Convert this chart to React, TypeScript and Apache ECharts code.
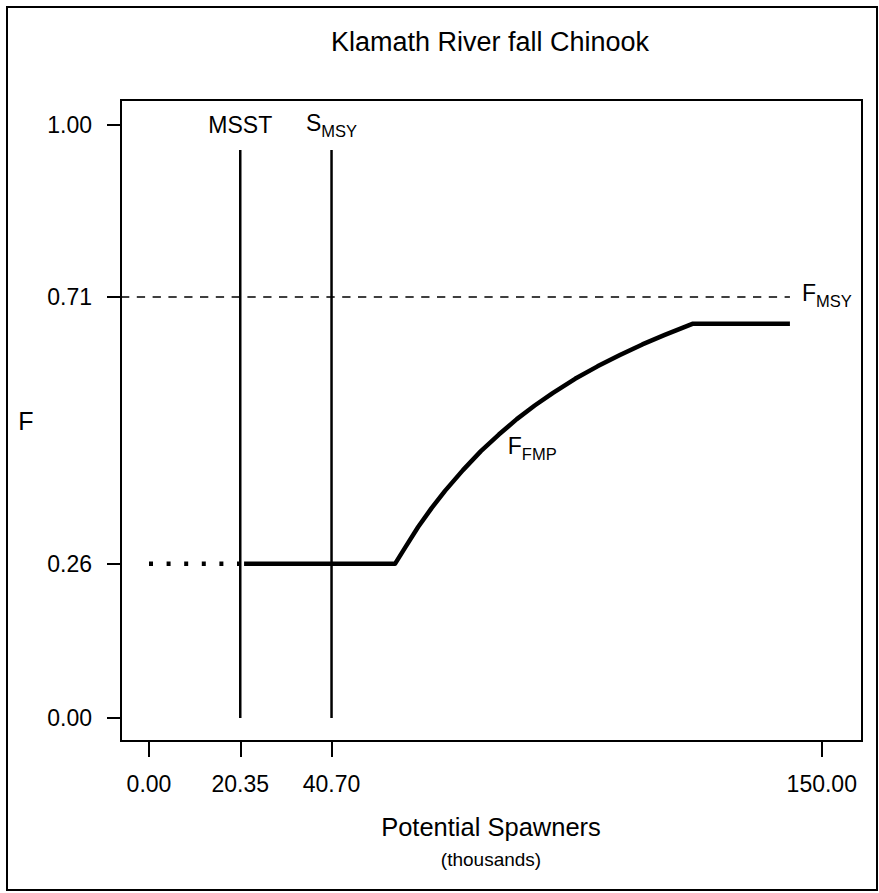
import React, { useEffect, useRef } from "react";
import * as echarts from "echarts";

const FONT = "'Liberation Sans', Arial, Helvetica, sans-serif";

// Axis ticks
const xTickValues = [0, 20.35, 40.7, 150];
const xTickLabels = ["0.00", "20.35", "40.70", "150.00"];
const yTickValues = [0, 0.26, 0.71, 1.0];
const yTickLabels = ["0.00", "0.26", "0.71", "1.00"];

// Axis ranges (R style plot box)
const xMin = -6.24;
const xMax = 158.97;
const yMin = -0.0388;
const yMax = 1.0422;

// Reference values
const MSST = 20.35;
const SMSY = 40.7;
const FMSY = 0.71;
const FLOW = 0.26;
const refLineTop = 0.958;

// Control rule pieces
const dottedX = [0, 20.35];
const flatX = [21.2, 54.85];
const curveX = [54.85, 57, 60, 63, 66, 70, 74, 78, 82, 86, 90, 95, 100, 105, 110, 115, 121.3];
const curveY = [0.26, 0.286, 0.322, 0.354, 0.383, 0.418, 0.45, 0.478, 0.504, 0.527, 0.548, 0.572, 0.593, 0.612, 0.63, 0.646, 0.665];
const capX = [121.3, 142.9];
const capY = 0.665;
const fmsyLineX = [-6.24, 142.9];

// Text label anchors
const labelMSST = [20.35, 1.0];
const labelSMSY = [40.7, 1.0];
const labelFMSY = [145.6, 0.712];
const labelFFMP = [80.0, 0.455];

function pickLabel(values: number[], labels: string[], v: number) {
  let best = 0;
  for (let i = 1; i < values.length; i++) {
    if (Math.abs(values[i] - v) < Math.abs(values[best] - v)) best = i;
  }
  return labels[best];
}

export default function App() {
  const ref = useRef<HTMLDivElement>(null);
  useEffect(() => {
    document.body.style.margin = "0";
    if (!ref.current) return;
    const chart = echarts.init(ref.current, undefined, { renderer: "svg" });

    const ruleData: number[][] = [];
    ruleData.push([flatX[0], FLOW]);
    for (let i = 0; i < curveX.length; i++) ruleData.push([curveX[i], curveY[i]]);
    ruleData.push([capX[1], capY]);

    const rich = {
      big: { fontSize: 23, fontFamily: FONT, color: "#000", lineHeight: 28, verticalAlign: "top" },
      sub: { fontSize: 16.5, fontFamily: FONT, color: "#000", lineHeight: 16, verticalAlign: "bottom" },
    };

    const baseLabel = {
      show: true,
      color: "#000",
      textBorderWidth: 0,
      fontFamily: FONT,
    };

    const option: any = {
      animation: false,
      backgroundColor: "#fff",
      grid: {
        show: true,
        left: 121,
        top: 100,
        width: 741,
        height: 641,
        borderColor: "#000",
        borderWidth: 2,
        backgroundColor: "transparent",
      },
      xAxis: {
        type: "value",
        min: xMin,
        max: xMax,
        splitLine: { show: false },
        axisLine: { show: false, onZero: false },
        axisTick: {
          show: true,
          customValues: xTickValues,
          length: 16,
          lineStyle: { color: "#000", width: 2 },
        },
        axisLabel: {
          customValues: xTickValues,
          formatter: (v: number) => pickLabel(xTickValues, xTickLabels, v),
          margin: 31,
          fontSize: 23,
          color: "#000",
          fontFamily: FONT,
        },
      },
      yAxis: {
        type: "value",
        min: yMin,
        max: yMax,
        splitLine: { show: false },
        axisLine: { show: false, onZero: false },
        axisTick: {
          show: true,
          customValues: yTickValues,
          length: 14,
          lineStyle: { color: "#000", width: 2 },
        },
        axisLabel: {
          customValues: yTickValues,
          formatter: (v: number) => pickLabel(yTickValues, yTickLabels, v),
          margin: 29,
          fontSize: 23,
          color: "#000",
          fontFamily: FONT,
        },
      },
      graphic: [
        {
          type: "rect",
          shape: { x: 7, y: 7, width: 870, height: 883 },
          style: { fill: "none", stroke: "#000", lineWidth: 2 },
          silent: true,
        },
        {
          type: "text",
          x: 490,
          y: 42,
          style: {
            text: "Klamath River fall Chinook",
            fontSize: 27,
            fontFamily: FONT,
            fill: "#000",
            textAlign: "center",
            textVerticalAlign: "middle",
          },
        },
        {
          type: "text",
          x: 491,
          y: 827,
          style: {
            text: "Potential Spawners",
            fontSize: 25.5,
            fontFamily: FONT,
            fill: "#000",
            textAlign: "center",
            textVerticalAlign: "middle",
          },
        },
        {
          type: "text",
          x: 491,
          y: 859,
          style: {
            text: "(thousands)",
            fontSize: 19,
            fontFamily: FONT,
            fill: "#000",
            textAlign: "center",
            textVerticalAlign: "middle",
          },
        },
        {
          type: "text",
          x: 26,
          y: 421,
          style: {
            text: "F",
            fontSize: 25,
            fontFamily: FONT,
            fill: "#000",
            textAlign: "center",
            textVerticalAlign: "middle",
          },
        },
      ],
      series: [
        {
          type: "line",
          name: "MSST line",
          data: [[MSST, 0], [MSST, refLineTop]],
          symbol: "none",
          lineStyle: { color: "#000", width: 2.5 },
          silent: true,
        },
        {
          type: "line",
          name: "SMSY line",
          data: [[SMSY, 0], [SMSY, refLineTop]],
          symbol: "none",
          lineStyle: { color: "#000", width: 2.5 },
          silent: true,
        },
        {
          type: "line",
          name: "FMSY line",
          data: [[fmsyLineX[0], FMSY], [fmsyLineX[1], FMSY]],
          symbol: "none",
          lineStyle: { color: "#000", width: 1.5, type: [8.3, 7.5] },
          silent: true,
        },
        {
          type: "line",
          name: "dotted",
          data: [[dottedX[0], FLOW], [dottedX[1], FLOW]],
          symbol: "none",
          lineStyle: { color: "#000", width: 4.5, type: [4, 13.6], cap: "butt" },
          silent: true,
        },
        {
          type: "line",
          name: "FFMP",
          data: ruleData,
          symbol: "none",
          lineStyle: { color: "#000", width: 4.5, join: "round" },
          silent: true,
        },
        {
          type: "scatter",
          name: "labels",
          symbolSize: 0,
          silent: true,
          itemStyle: { color: "#000", opacity: 1 },
          data: [
            {
              value: labelMSST,
              label: {
                ...baseLabel,
                position: "inside",
                formatter: "MSST",
                fontSize: 23,
              },
            },
            {
              value: labelSMSY,
              label: {
                ...baseLabel,
                position: "inside",
                formatter: "{big|S}{sub|MSY}",
                rich,
              },
            },
            {
              value: labelFMSY,
              label: {
                ...baseLabel,
                position: "right",
                distance: 0,
                formatter: "{big|F}{sub|MSY}",
                rich,
              },
            },
            {
              value: labelFFMP,
              label: {
                ...baseLabel,
                position: "right",
                distance: 0,
                formatter: "{big|F}{sub|FMP}",
                rich,
              },
            },
          ],
        },
      ],
    };
    chart.setOption(option);
    return () => chart.dispose();
  }, []);
  return <div ref={ref} style={{ width: 879, height: 893 }} />;
}
